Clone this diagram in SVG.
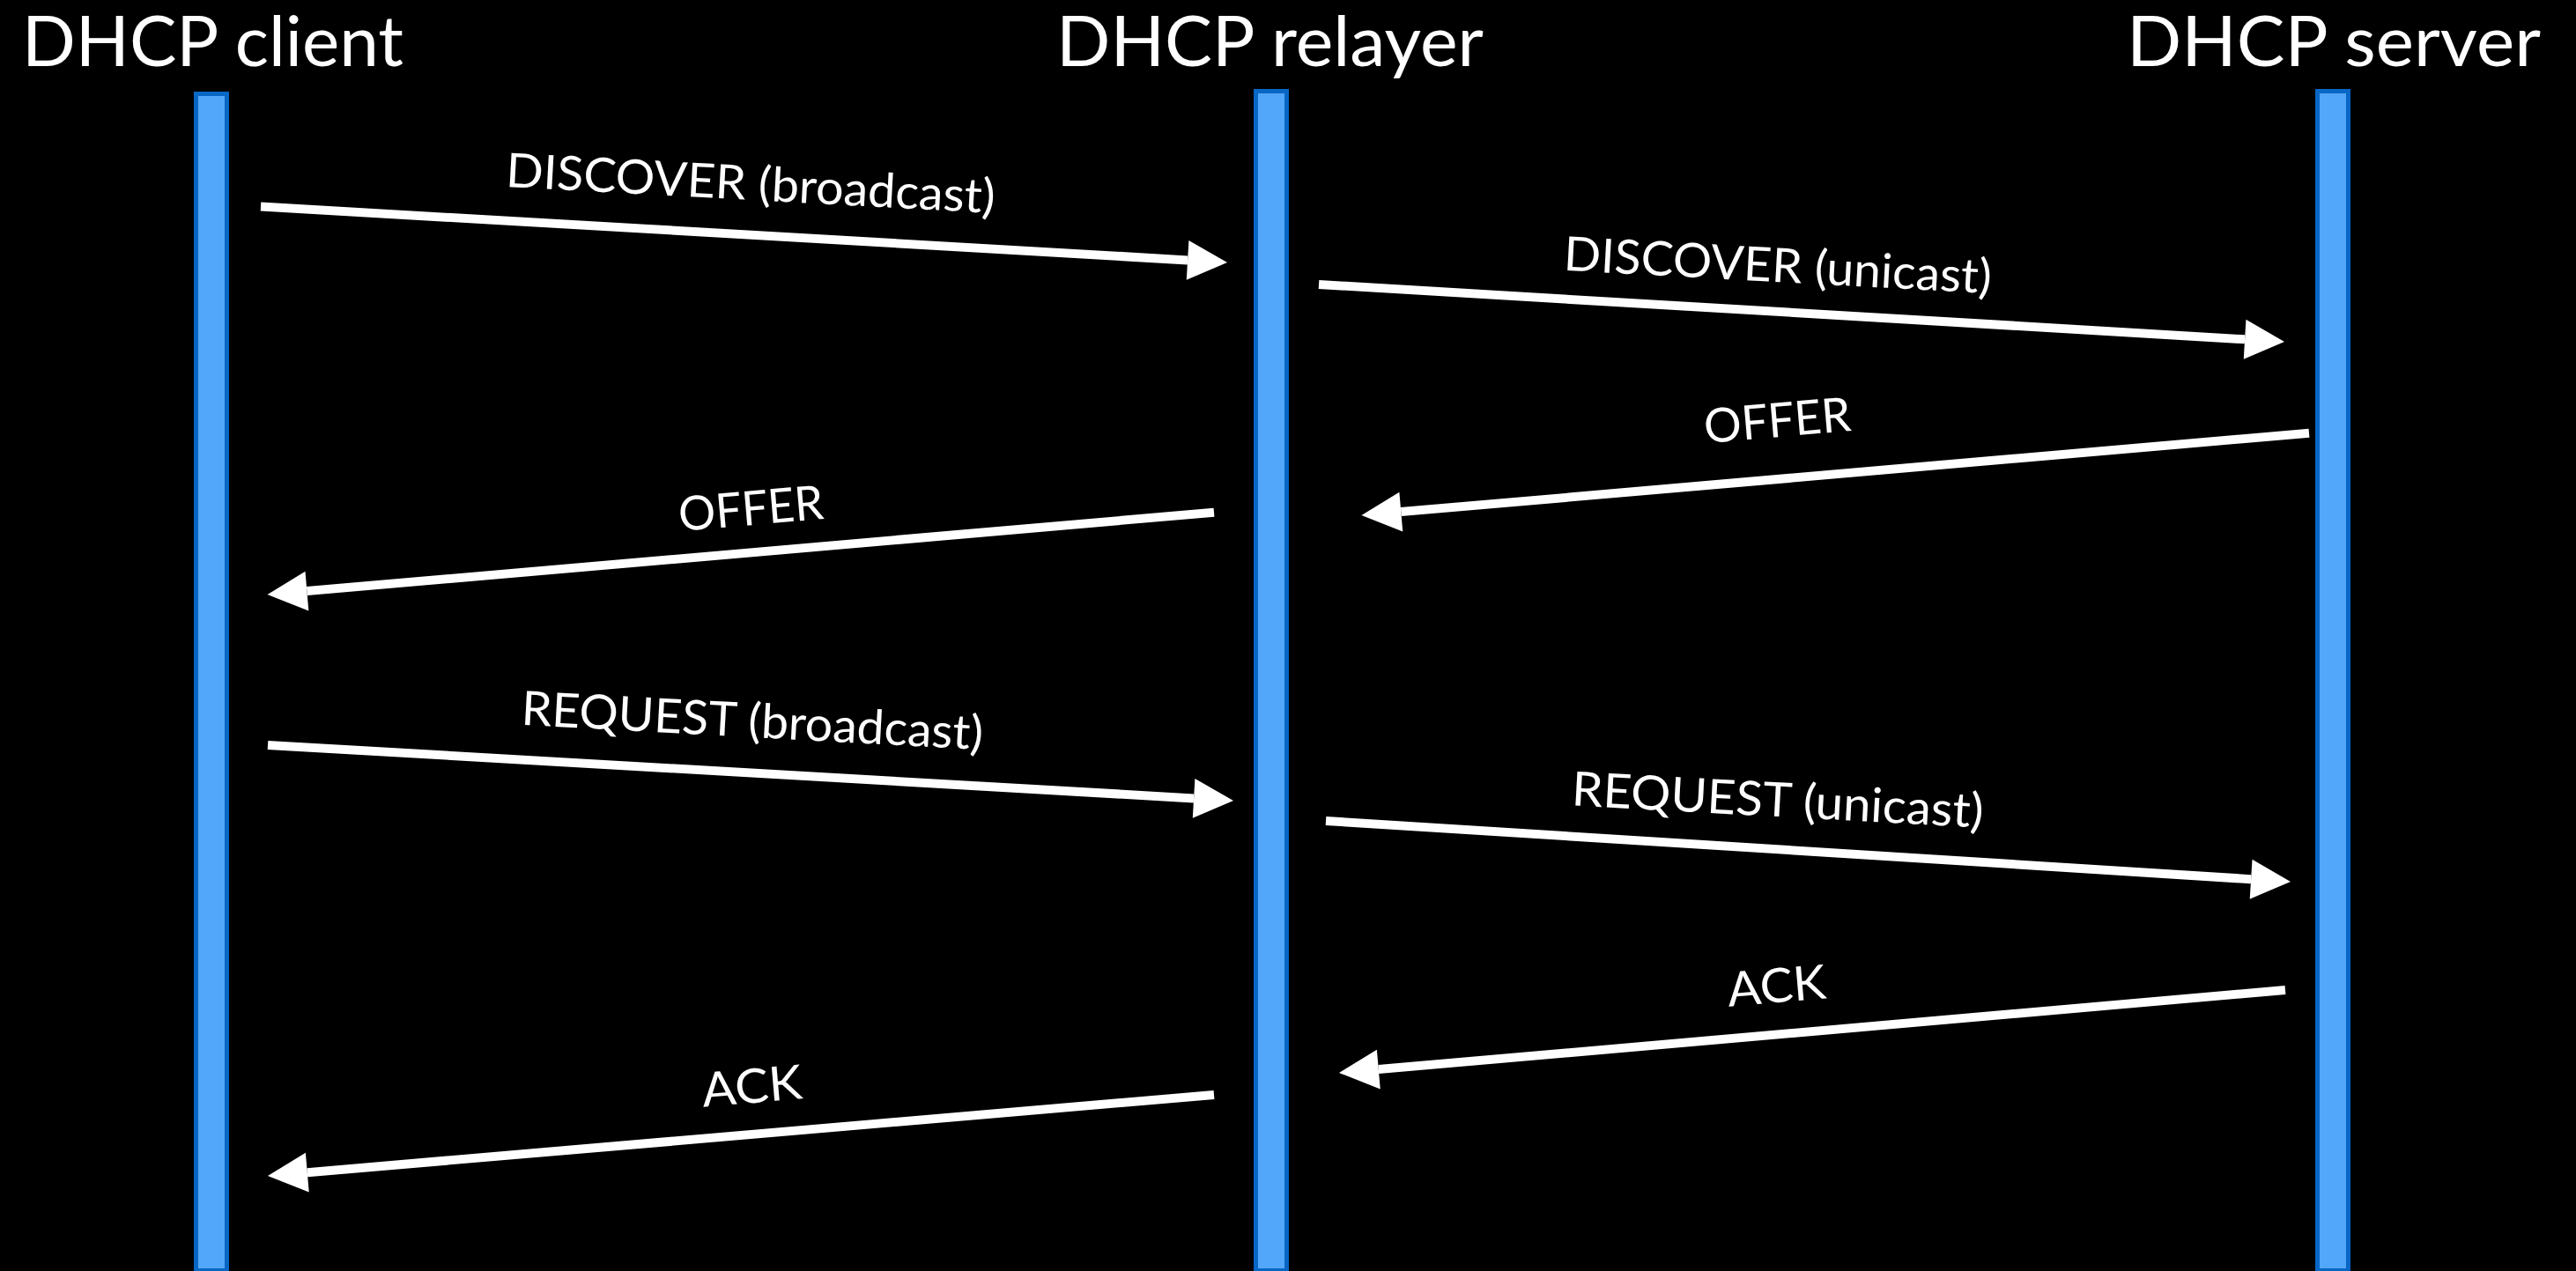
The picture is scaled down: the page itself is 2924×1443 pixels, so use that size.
<svg xmlns="http://www.w3.org/2000/svg" width="2924" height="1443" viewBox="0 0 2924 1443">
  <style>
    .title { font-family: Lato, "Open Sans", "Liberation Sans", sans-serif; font-size: 80px; fill: #ffffff; }
    .label { font-family: Lato, "Open Sans", "Liberation Sans", sans-serif; font-size: 54px; fill: #ffffff; text-anchor: middle; }
    .bar { fill: #53a7fa; stroke: #0866c4; stroke-width: 5; }
    .msg { stroke: #ffffff; stroke-width: 10; fill: none; marker-end: url(#head); }
  </style>
  <defs>
    <marker id="head" markerUnits="userSpaceOnUse" markerWidth="46" markerHeight="46" refX="0" refY="22.5" orient="auto" overflow="visible">
      <path d="M0,0 L45,22.5 L0,45 Z" fill="#ffffff"/>
    </marker>
  </defs>

  <rect width="2924" height="1443" fill="#000000"/>

  <!-- participants: title and lifeline -->
  <g id="client">
    <text class="title" x="25" y="75" textLength="433" lengthAdjust="spacingAndGlyphs">DHCP client</text>
    <rect class="bar" x="222.5" y="106.5" width="35" height="1336"/>
  </g>
  <g id="relayer">
    <text class="title" x="1199" y="75" textLength="485" lengthAdjust="spacingAndGlyphs">DHCP relayer</text>
    <rect class="bar" x="1425.5" y="103.5" width="35" height="1339"/>
  </g>
  <g id="server">
    <text class="title" x="2414" y="75" textLength="470" lengthAdjust="spacingAndGlyphs">DHCP server</text>
    <rect class="bar" x="2630.5" y="103.5" width="35" height="1339"/>
  </g>

  <!-- messages -->
  <g id="connectors">
    <line class="msg" x1="296" y1="234.5" x2="1348.1" y2="295.4"/>
    <line class="msg" x1="1497" y1="323" x2="2548.1" y2="385.3"/>
    <line class="msg" x1="2621" y1="491.7" x2="1590.3" y2="581.1"/>
    <line class="msg" x1="1378" y1="581.7" x2="348.4" y2="671.1"/>
    <line class="msg" x1="304" y1="846" x2="1355.1" y2="906.4"/>
    <line class="msg" x1="1505" y1="932" x2="2555.1" y2="998.2"/>
    <line class="msg" x1="2594" y1="1124" x2="1564.8" y2="1214.1"/>
    <line class="msg" x1="1378" y1="1243" x2="348.8" y2="1331.2"/>
  </g>

  <!-- message labels -->
  <g id="labels">
    <text class="label" transform="translate(851,227) rotate(3.1)" textLength="556" lengthAdjust="spacingAndGlyphs">DISCOVER (broadcast)</text>
    <text class="label" transform="translate(2017,320) rotate(3.1)" textLength="486" lengthAdjust="spacingAndGlyphs">DISCOVER (unicast)</text>
    <text class="label" transform="translate(2019,496) rotate(-4.9)" textLength="167" lengthAdjust="spacingAndGlyphs">OFFER</text>
    <text class="label" transform="translate(854,596) rotate(-4.9)" textLength="165" lengthAdjust="spacingAndGlyphs">OFFER</text>
    <text class="label" transform="translate(853,837) rotate(3.1)" textLength="525" lengthAdjust="spacingAndGlyphs">REQUEST (broadcast)</text>
    <text class="label" transform="translate(2017,927) rotate(3.1)" textLength="468" lengthAdjust="spacingAndGlyphs">REQUEST (unicast)</text>
    <text class="label" transform="translate(2018,1138) rotate(-4.9)" textLength="112" lengthAdjust="spacingAndGlyphs">ACK</text>
    <text class="label" transform="translate(855,1252) rotate(-4.9)" textLength="114" lengthAdjust="spacingAndGlyphs">ACK</text>
  </g>
</svg>
